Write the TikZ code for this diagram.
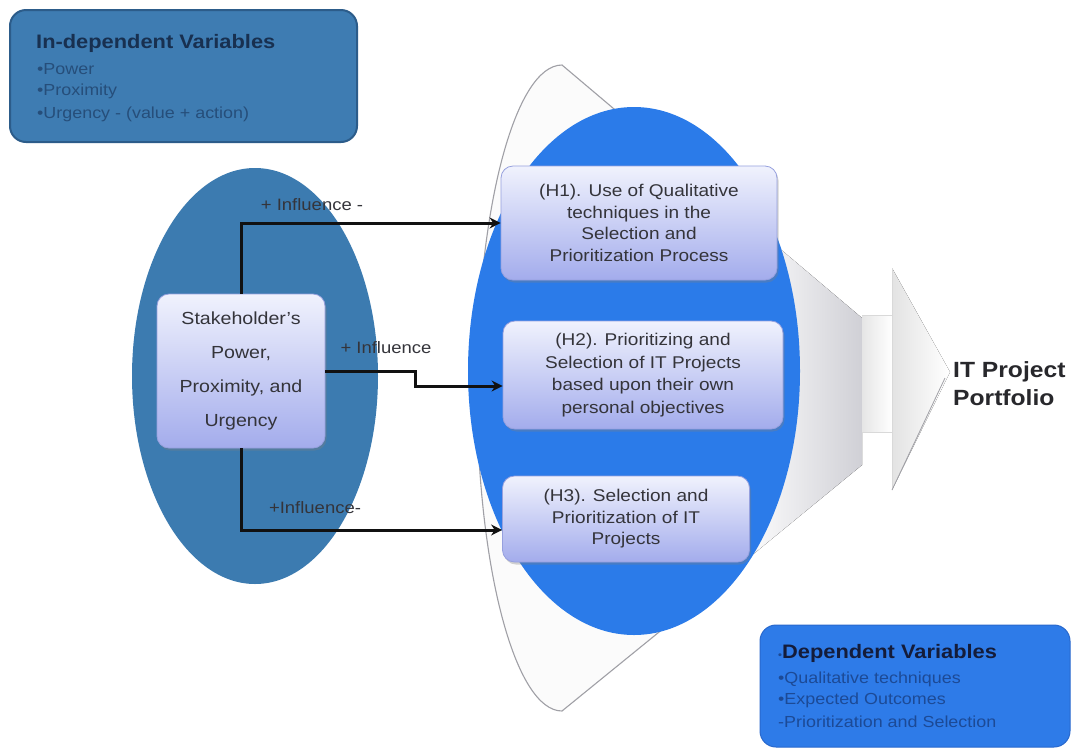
\documentclass[tikz,border=0pt]{standalone}
\usepackage{fontspec}
\setmainfont{Liberation Sans}[FakeStretch=1.12]
\usetikzlibrary{arrows.meta,shapes.geometric,shadows,calc}

\definecolor{steelFill}{RGB}{62,124,178}
\definecolor{steelEdge}{RGB}{44,92,138}
\definecolor{steelEll}{RGB}{60,123,176}
\definecolor{brightBlue}{RGB}{43,123,233}
\definecolor{depFill}{RGB}{46,123,232}
\definecolor{depEdge}{RGB}{40,104,205}
\definecolor{navyTitle}{RGB}{24,48,80}
\definecolor{indBullet}{RGB}{38,78,122}
\definecolor{depTitle}{RGB}{20,28,58}
\definecolor{depBullet}{RGB}{28,74,150}
\definecolor{hTop}{RGB}{240,242,253}
\definecolor{hBot}{RGB}{163,172,236}
\definecolor{hEdge}{RGB}{150,160,222}
\definecolor{txtDark}{RGB}{52,52,58}
\definecolor{coneGray}{RGB}{208,208,214}
\definecolor{outlineGray}{RGB}{160,160,166}

\tikzset{
  hbox/.style={rectangle, rounded corners=12pt, top color=hTop, bottom color=hBot,
    draw=hEdge, line width=0.8pt, align=center, inner sep=0pt, text=txtDark,
    font=\fontsize{17}{21.5}\selectfont,
    drop shadow={shadow xshift=1.5pt, shadow yshift=-2.5pt, opacity=0.35}},
  conn/.style={line width=3pt, draw={rgb,255:red,17;green,17;blue,17},
    -{Stealth[length=11pt,width=11pt]}},
  inflabel/.style={font=\fontsize{16.5}{18}\selectfont, text=txtDark, inner sep=0pt},
  varbox/.style={rectangle, rounded corners=16pt, inner sep=0pt},
  vartitle/.style={font=\bfseries\fontsize{19.5}{21}\selectfont, anchor=west, inner sep=0pt},
  varitem/.style={font=\fontsize{16}{18}\selectfont, anchor=west, inner sep=0pt},
}

\begin{document}
\begin{tikzpicture}[x=1pt,y=-1pt]
\useasboundingbox (0,0) rectangle (1072,748);
\fill[white] (0,0) rectangle (1072,748);

% funnel body behind the hypotheses ellipse: pale mouth, grey narrowing cone
\fill[white!97!gray]
  (562,65) arc[start angle=90, end angle=270, x radius=85pt, y radius=323pt]
  -- (862,465) -- (862,318) -- cycle;
\fill[left color=white, right color=coneGray]
  (740,215) -- (862,318) -- (862,465) -- (740,565) -- cycle;
\draw[outlineGray, line width=1.1pt]
  (620,114) -- (562,65) arc[start angle=90, end angle=270, x radius=85pt, y radius=323pt]
  -- (680,615);
% neck and head of the output arrow
\fill[left color=gray!20, right color=white] (862,315) rectangle (892,432);
\draw[gray!30, line width=0.6pt] (862,315) -- (892,315) (862,432) -- (892,432);
\fill[left color=gray!22, right color=white] (892,268) -- (950,372) -- (892,490) -- cycle;
\draw[gray!30, line width=0.6pt] (892,268) -- (892,490);
\draw[outlineGray, line width=0.8pt] (892,490) -- (945,378);

% stakeholder and hypotheses ellipses
\node[ellipse, fill=steelEll, minimum width=246pt, minimum height=416pt, inner sep=0pt]
  (leftEll) at (255,376) {};
\node[ellipse, fill=brightBlue, minimum width=332pt, minimum height=528pt, inner sep=0pt]
  (hypEll) at (634,371) {};

% independent variables panel
\node[varbox, fill=steelFill, draw=steelEdge, line width=2pt,
  minimum width=347pt, minimum height=132pt] (indep) at (183.5,76) {};
\node[vartitle, text=navyTitle] (indepT) at (36,43) {In-dependent Variables};
\node[varitem, text=indBullet] (indep1) at (37,69) {•Power};
\node[varitem, text=indBullet] (indep2) at (37,91) {•Proximity};
\node[varitem, text=indBullet] (indep3) at (37,114) {•Urgency - (value + action)};

% stakeholder box
\node[hbox, minimum width=168pt, minimum height=154pt,
  font=\fontsize{17.5}{34}\selectfont] (stake) at (241,371)
  {Stakeholder's\\Power,\\Proximity, and\\Urgency};

% hypotheses boxes
\node[hbox, minimum width=276pt, minimum height=114pt] (h1) at (639,223)
  {(H1). Use of Qualitative\\techniques in the\\Selection and\\Prioritization Process};
\node[hbox, minimum width=280pt, minimum height=108pt,
  font=\fontsize{17}{22.5}\selectfont] (h2) at (643,375)
  {(H2). Prioritizing and\\Selection of IT Projects\\based upon their own\\personal objectives};
\node[hbox, minimum width=247pt, minimum height=86pt] (h3) at (626,519)
  {(H3). Selection and\\Prioritization of IT\\Projects};

% influence connectors
\draw[conn] (stake.north) |- (h1.west);
\draw[conn] (stake.east) -- ++(90,0) |- ([yshift=-11pt]h2.west);
\draw[conn] (stake.south) |- ([yshift=-11pt]h3.west);

\node[inflabel] (lab1) at (312,205) {+ Influence -};
\node[inflabel] (lab2) at (386,348) {+ Influence};
\node[inflabel] (lab3) at (315,508) {+Influence-};

% outcome label
\node[font=\bfseries\fontsize{22}{28}\selectfont, align=left, anchor=west,
  inner sep=0pt, text={rgb,255:red,40;green,40;blue,44}] (portfolio) at (953,384)
  {IT Project\\Portfolio};

% dependent variables panel
\node[varbox, fill=depFill, draw=depEdge, line width=1pt,
  minimum width=310pt, minimum height=122pt] (dep) at (915,686) {};
\node[vartitle, text=depTitle] (depT) at (778,653)
  {{\fontsize{10}{10}\selectfont\color{depBullet}•}Dependent Variables};
\node[varitem, text=depBullet] (dep1) at (778,679) {•Qualitative techniques};
\node[varitem, text=depBullet] (dep2) at (778,700) {•Expected Outcomes};
\node[varitem, text=depBullet] (dep3) at (778,722) {-Prioritization and Selection};
\end{tikzpicture}
\end{document}
